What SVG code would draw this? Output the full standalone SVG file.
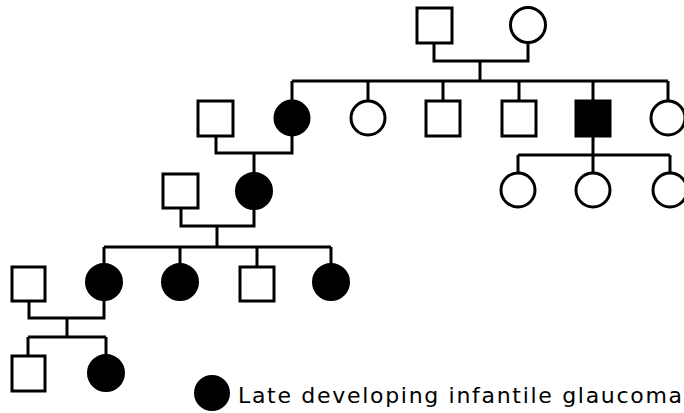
<svg xmlns="http://www.w3.org/2000/svg" width="684" height="413" viewBox="0 0 684 413">
<style>
.l{fill:none;stroke:#000;stroke-width:3}
.o{fill:#fff;stroke:#000;stroke-width:3}
.a{fill:#000;stroke:#000;stroke-width:3}
.t{font-family:"DejaVu Sans","Liberation Sans",sans-serif;font-size:22px;fill:#000}
</style>
<rect width="684" height="413" fill="#fff"/>
<g id="connectors">
<path class="l" d="M434 43V61H528V43M480 61V81M292 81H668M292 81V100M368 81V100M443 81V100M519 81V100M593 81V100M668 81V100"/>
<path class="l" d="M216 135V153H292V136M254 153V173"/>
<path class="l" d="M593 136V155M518 155H670M518 155V173M593 155V173M670 155V173"/>
<path class="l" d="M181 208V226H254V209M217 226V247M104 247H331M104 247V264M180 247V264M257 247V267M331 247V264"/>
<path class="l" d="M29 301V318H104V300M67 318V337M28 337H106M28 337V356M106 337V355"/>
</g>
<g id="g1m"><rect class="o" x="417" y="8" width="35" height="35"/></g>
<g id="g1f"><circle class="o" cx="528" cy="25" r="17.5"/></g>
<g id="g2m1"><rect class="o" x="198" y="101" width="35" height="35"/></g>
<g id="g2f1"><circle class="a" cx="292" cy="118" r="17"/></g>
<g id="g2f2"><circle class="o" cx="368" cy="118" r="17"/></g>
<g id="g2m2"><rect class="o" x="426" y="101" width="34" height="35"/></g>
<g id="g2m3"><rect class="o" x="502" y="101" width="34" height="35"/></g>
<g id="g2m4"><rect class="a" x="576" y="101" width="34" height="35"/></g>
<g id="g2f3"><circle class="o" cx="668" cy="118" r="17"/></g>
<g id="g3c1"><circle class="o" cx="518" cy="190" r="17"/></g>
<g id="g3c2"><circle class="o" cx="593" cy="190" r="17"/></g>
<g id="g3c3"><circle class="o" cx="670" cy="190" r="17"/></g>
<g id="g3m"><rect class="o" x="163" y="174" width="35" height="34"/></g>
<g id="g3f"><circle class="a" cx="254" cy="191" r="17.5"/></g>
<g id="g4m1"><rect class="o" x="12" y="267" width="33" height="34"/></g>
<g id="g4f1"><circle class="a" cx="104" cy="282" r="17.5"/></g>
<g id="g4f2"><circle class="a" cx="180" cy="282" r="17.5"/></g>
<g id="g4m2"><rect class="o" x="240" y="267" width="34" height="34"/></g>
<g id="g4f3"><circle class="a" cx="331" cy="282" r="17.5"/></g>
<g id="g5m"><rect class="o" x="12" y="356" width="33" height="35"/></g>
<g id="g5f"><circle class="a" cx="106" cy="373" r="17.5"/></g>
<g id="legend">
<circle class="a" cx="212" cy="393" r="16.5"/>
<text class="t" x="238" y="403" textLength="444" lengthAdjust="spacing">Late developing infantile glaucoma</text>
</g>
</svg>
